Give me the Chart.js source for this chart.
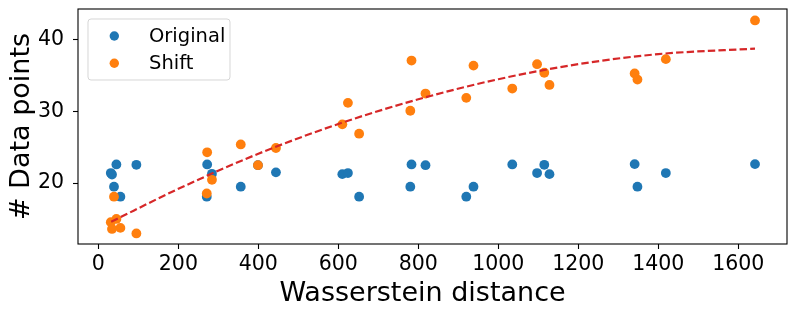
<!DOCTYPE html>
<html>
<head>
<meta charset="utf-8">
<script src="https://cdn.jsdelivr.net/npm/chart.js@4"></script>
<style>
html,body{margin:0;padding:0;background:#ffffff;}
#wrap{width:797px;height:317px;}
</style>
</head>
<body>
<div id="wrap"><canvas id="c" width="797" height="317"></canvas></div>
<script>
// ---- Data ----
const wassersteinDistance = [31, 34, 39, 45, 55, 95, 272, 271, 284, 356, 399, 444, 610, 624, 652, 783, 780, 818, 920, 938, 1035, 1097, 1115, 1128, 1341, 1348, 1419, 1642];
const originalPoints = [21.4, 21.2, 19.5, 22.6, 18.1, 22.55, 22.6, 18.1, 21.3, 19.5, 22.5, 21.5, 21.25, 21.4, 18.1, 22.6, 19.5, 22.5, 18.1, 19.5, 22.6, 21.4, 22.55, 21.25, 22.65, 19.5, 21.4, 22.65];
const shiftPoints = [14.55, 13.6, 18.1, 15.0, 13.75, 12.97, 24.3, 18.55, 20.46, 25.4, 22.5, 24.9, 28.2, 31.2, 26.9, 37.1, 30.1, 32.5, 31.9, 36.4, 33.2, 36.6, 35.4, 33.7, 35.3, 34.45, 37.3, 42.7];
const fitCurveX = [32, 200, 400, 600, 800, 1000, 1200, 1400, 1642];
const fitCurveY = [14.6, 19.2, 24.1, 28.25, 31.7, 34.5, 36.6, 38.0, 38.77];
const xTickValues = [0, 200, 400, 600, 800, 1000, 1200, 1400, 1600];
const yTickValues = [20, 30, 40];
const seriesLabels = ['Original', 'Shift'];

const FONT = 'DejaVu Sans';

function pts(xs, ys) { return xs.map((x, i) => ({ x: x, y: ys[i] })); }

function zeroPad(s) { s.paddingLeft = 0; s.paddingRight = 0; s.paddingTop = 0; s.paddingBottom = 0; }

const framePlugin = {
  id: 'frame',
  afterDraw(chart) {
    const { ctx, chartArea: a } = chart;
    ctx.save();
    ctx.strokeStyle = '#000000';
    ctx.lineWidth = 1.1;
    ctx.strokeRect(a.left, a.top, a.right - a.left, a.bottom - a.top);
    ctx.restore();
  }
};

const insideLegend = {
  id: 'insideLegend',
  afterDraw(chart) {
    const { ctx, chartArea: a } = chart;
    const items = seriesLabels.map(l => chart.data.datasets.find(d => d.label === l));
    const bx = a.left + 10, by = a.top + 10, bw = 142, bh = 61, r = 3;
    ctx.save();
    ctx.beginPath();
    ctx.moveTo(bx + r, by);
    ctx.lineTo(bx + bw - r, by);
    ctx.arcTo(bx + bw, by, bx + bw, by + r, r);
    ctx.lineTo(bx + bw, by + bh - r);
    ctx.arcTo(bx + bw, by + bh, bx + bw - r, by + bh, r);
    ctx.lineTo(bx + r, by + bh);
    ctx.arcTo(bx, by + bh, bx, by + bh - r, r);
    ctx.lineTo(bx, by + r);
    ctx.arcTo(bx, by, bx + r, by, r);
    ctx.closePath();
    ctx.fillStyle = 'rgba(255,255,255,0.8)';
    ctx.fill();
    ctx.strokeStyle = 'rgba(204,204,204,0.8)';
    ctx.lineWidth = 1;
    ctx.stroke();
    items.forEach((d, i) => {
      const cy = a.top + 27 + i * 27.3;
      ctx.beginPath();
      ctx.arc(a.left + 36.3, cy, 4.7, 0, Math.PI * 2);
      ctx.fillStyle = d.backgroundColor;
      ctx.fill();
      ctx.fillStyle = '#000000';
      ctx.font = '19.5px "' + FONT + '"';
      ctx.textAlign = 'left';
      ctx.textBaseline = 'alphabetic';
      ctx.fillText(d.label, a.left + 71, cy + 6);
    });
    ctx.restore();
  }
};

new Chart(document.getElementById('c'), {
  type: 'scatter',
  data: {
    datasets: [
      {
        type: 'line',
        label: 'fit',
        data: pts(fitCurveX, fitCurveY),
        borderColor: '#d62728',
        borderWidth: 2.2,
        borderDash: [7.4, 3.2],
        pointRadius: 0,
        fill: false,
        cubicInterpolationMode: 'monotone',
        order: 1
      },
      {
        label: seriesLabels[1],
        data: pts(wassersteinDistance, shiftPoints),
        backgroundColor: '#ff7f0e',
        borderWidth: 0,
        pointRadius: 4.9,
        order: 2
      },
      {
        label: seriesLabels[0],
        data: pts(wassersteinDistance, originalPoints),
        backgroundColor: '#1f77b4',
        borderWidth: 0,
        pointRadius: 4.9,
        order: 3
      }
    ]
  },
  options: {
    responsive: false,
    animation: false,
    devicePixelRatio: 1,
    layout: { padding: { left: 0, right: 10, top: 9, bottom: 0 } },
    plugins: {
      legend: { display: false },
      tooltip: { enabled: false }
    },
    scales: {
      x: {
        type: 'linear',
        min: -51,
        max: 1722,
        afterFit(s) {
          s.height = 73;
          zeroPad(s);
          // the reference's axis title sits slightly left of the axis centre
          s.drawTitle = function () {
            const l = this.left, r = this.right;
            this.left = l - 10; this.right = r - 10;
            Object.getPrototypeOf(this).drawTitle.call(this);
            this.left = l; this.right = r;
          };
        },
        afterBuildTicks(s) { s.ticks = xTickValues.map(v => ({ value: v })); },
        grid: { display: true, drawOnChartArea: false, drawTicks: true, tickLength: 5, color: '#000000', tickColor: '#000000', tickWidth: 1.1 },
        border: { display: false },
        ticks: { font: { family: FONT, size: 20.5 }, color: '#000000', padding: 3, maxRotation: 0, autoSkip: false, callback: v => String(v) },
        title: { display: true, text: 'Wasserstein distance', color: '#000000', font: { family: FONT, size: 27, lineHeight: 1 }, padding: { top: 0, bottom: 10 } }
      },
      y: {
        type: 'linear',
        min: 11.5,
        max: 44.3,
        afterFit(s) { s.width = 78; zeroPad(s); },
        afterBuildTicks(s) { s.ticks = yTickValues.map(v => ({ value: v })); },
        grid: { display: true, drawOnChartArea: false, drawTicks: true, tickLength: 5, color: '#000000', tickColor: '#000000', tickWidth: 1.1 },
        border: { display: false },
        ticks: { font: { family: FONT, size: 20.5 }, color: '#000000', padding: 9, autoSkip: false, callback: v => String(v) },
        title: { display: true, text: '# Data points', color: '#000000', font: { family: FONT, size: 27, lineHeight: 1 }, padding: { top: 8, bottom: 0 } }
      }
    }
  },
  plugins: [framePlugin, insideLegend]
});
</script>
</body>
</html>
